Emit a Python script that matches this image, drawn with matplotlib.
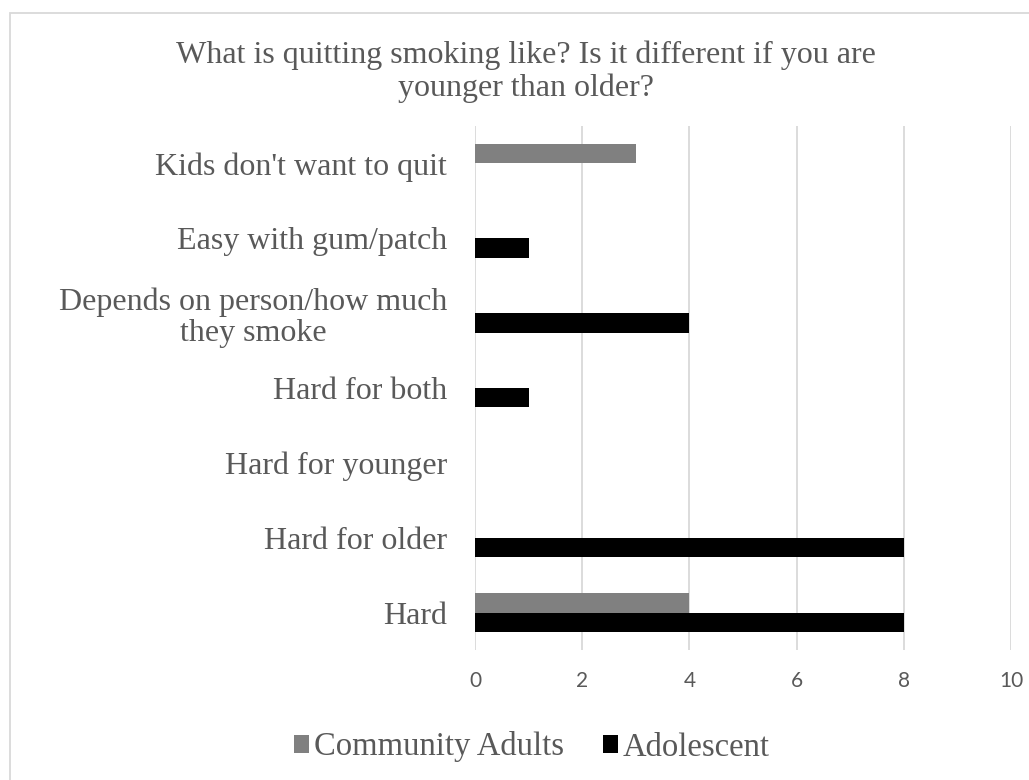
import numpy as np
import matplotlib.pyplot as plt
from matplotlib.patches import Rectangle

categories = ["Hard", "Hard for older", "Hard for younger", "Hard for both",
              "Depends on person/how much\nthey smoke", "Easy with gum/patch",
              "Kids don't want to quit"]
community_adults = [4, 0, 0, 0, 0, 0, 3]
adolescent = [8, 8, 0, 1, 4, 1, 0]

txt = '#595959'
serif = 'Liberation Serif'

fig = plt.figure(figsize=(10.29, 7.8), dpi=100)
ax = fig.add_axes([475/1029, 1 - 650/780, (1011-475)/1029, (650-126)/780])

y = np.arange(len(categories))
h = 0.26
ax.barh(y + h/2, community_adults, height=h, color='#808080', label='Community Adults')
ax.barh(y - h/2, adolescent, height=h, color='#000000', label='Adolescent')

ax.set_xlim(0, 10)
ax.set_ylim(-0.5, len(categories) - 0.5)
ax.set_xticks(range(0, 11, 2))
ax.set_yticks(y)
ax.set_yticklabels(categories, fontfamily=serif, fontsize=23, color=txt,
                   ha='right', multialignment='center', linespacing=1.1)
ax.tick_params(axis='y', length=0, pad=20)
ax.tick_params(axis='x', length=0, pad=15, labelsize=15, labelcolor=txt)
for lab in ax.get_xticklabels():
    lab.set_fontfamily('Lato')
ax.grid(axis='x', color='#d9d9d9', linewidth=1.3)
ax.set_axisbelow(True)
for s in ax.spines.values():
    s.set_visible(False)

fig.text(526/1029, 1 - 72/780, "What is quitting smoking like? Is it different if you are\nyounger than older?",
         ha='center', va='center', fontfamily=serif, fontsize=23, color=txt,
         linespacing=1.15)

leg = fig.legend(loc='center', bbox_to_anchor=(532/1029, 1 - 747/780), ncol=2,
                 frameon=False, prop={'family': serif, 'size': 23.5},
                 handlelength=0.46, handleheight=0.46, handletextpad=0.15,
                 columnspacing=1.2, labelcolor=txt)

fig.patches.append(Rectangle((10/1029, -0.01), 1.02, 1 - 13/780 + 0.01,
                             transform=fig.transFigure, fill=False,
                             edgecolor='#d9d9d9', linewidth=1.3))

fig.savefig('out.png', dpi=100)
